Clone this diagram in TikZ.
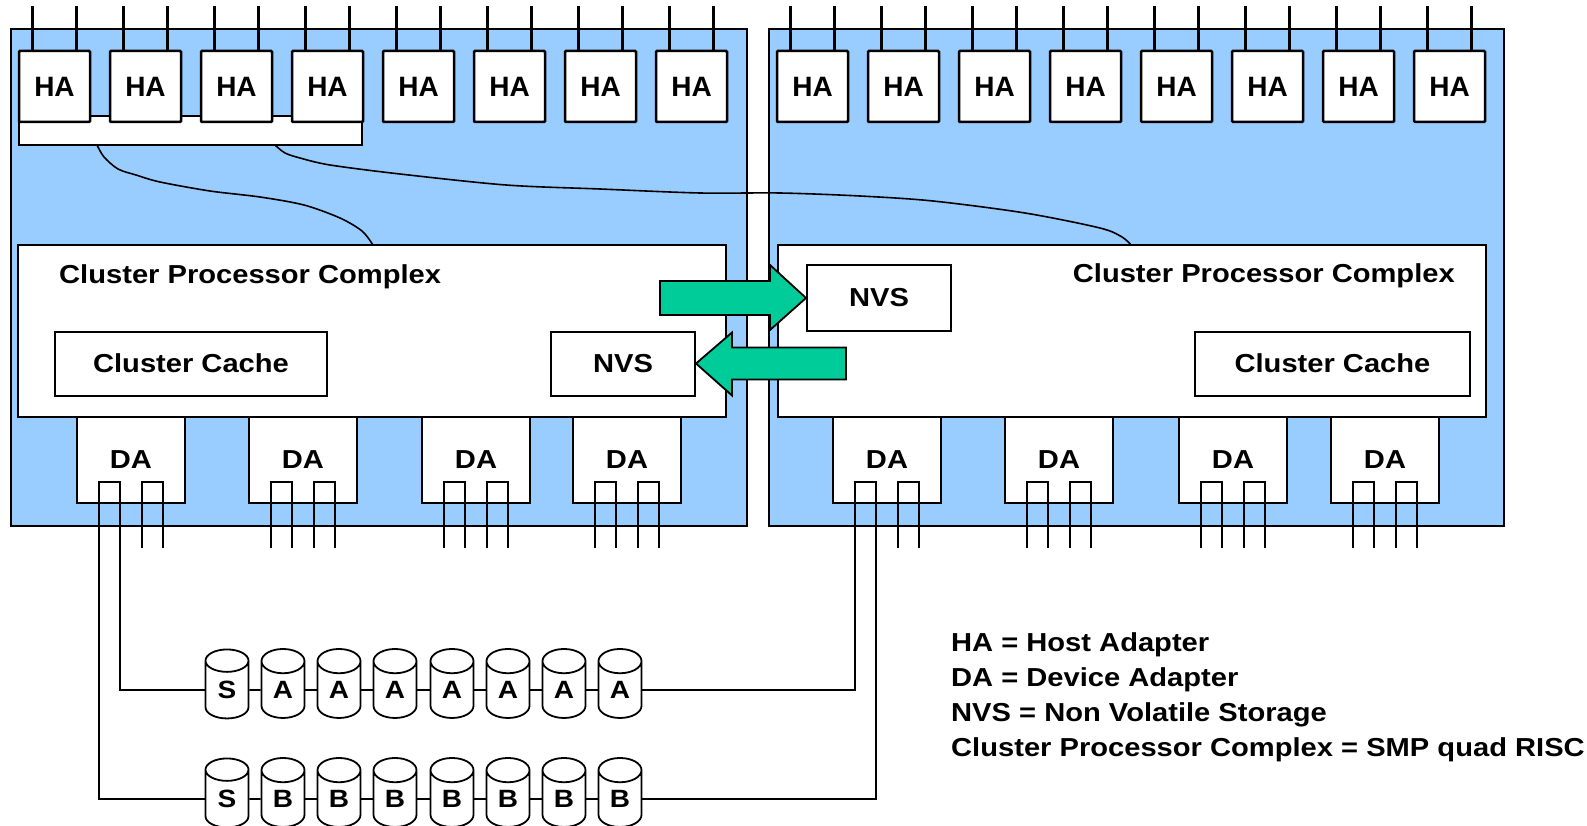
\documentclass[tikz,border=0pt]{standalone}
\usepackage{fontspec}
\setmainfont{Liberation Sans}
\newfontfamily\widesans[FakeStretch=1.12]{Liberation Sans}
\usetikzlibrary{positioning,shapes.geometric}
\definecolor{PanelBlue}{RGB}{153,204,255}
\definecolor{ArrowGreen}{RGB}{0,204,153}

\begin{document}
\begin{tikzpicture}[x=1pt, y=-1pt,
    panel/.style={draw=black, fill=PanelBlue, line width=2pt, minimum height=497pt, inner sep=0pt},
    cpcbox/.style={draw=black, fill=white, line width=2pt, minimum width=708pt, minimum height=172pt, inner sep=0pt},
    cpctitle/.style={inner sep=0pt, font=\widesans\fontsize{26}{30}\selectfont\bfseries},
    innerbox/.style={draw=black, fill=white, line width=2pt, minimum height=64pt, inner sep=0pt, font=\widesans\fontsize{26}{30}\selectfont\bfseries},
    hostad/.style={draw=black, fill=white, line width=2.5pt, rounded corners=1pt, minimum width=71pt, minimum height=71pt, inner sep=0pt, font=\fontsize{28}{30}\selectfont\bfseries},
    devad/.style={draw=black, fill=white, line width=2pt, minimum width=108pt, minimum height=86pt, inner sep=0pt, font=\widesans\fontsize{26}{30}\selectfont\bfseries},
    disk/.style={cylinder, shape border rotate=90, draw=black, fill=white, line width=1.8pt, aspect=1.2, minimum width=43pt, minimum height=69pt, inner sep=0pt, font=\widesans\fontsize{25}{26}\selectfont\bfseries},
    port/.style={line width=2.6pt, draw=black},
    wire/.style={line width=1.6pt, draw=black},
    bigarrow/.style={draw=black, fill=ArrowGreen, line width=1.8pt, line join=miter}
  ]
    \useasboundingbox (0,0) rectangle (1587,826);

    % the two clusters
    \node[panel, minimum width=736pt] (panelL) at (379,277.5) {};
    \node[panel, minimum width=735pt] (panelR) at (1136.5,277.5) {};

    % wires from the host adapter bus
    \coordinate (w1s) at (97,145);
    \coordinate (w1e) at (373,245);
    \coordinate (w2s) at (275,145);
    \coordinate (w2e) at (1131,245);
    \draw[wire] plot[smooth] coordinates {(w1s) (104,157) (118,169) (136,175) (160,182) (210,191) (260,197) (304,205) (340,218) (362,231) (w1e)};
    \draw[wire] plot[smooth] coordinates {(w2s) (285,153) (300,158) (330,165) (400,174) (506,185) (600,189) (700,193) (780,193) (860,196) (933,201) (1025,213) (1100,228) (1122,237) (w2e)};

    % processor complexes
    \node[cpcbox] (cpcL) at (372,331) {};
    \node[cpcbox] (cpcR) at (1131.5,331) {};
    \node[cpctitle, anchor=west] (titleL) at (59,277) {Cluster Processor Complex};
    \node[cpctitle, anchor=east] (titleR) at (1455,276) {Cluster Processor Complex};
    \node[innerbox, minimum width=272pt] (cacheL) at (191,363.5) {Cluster Cache};
    \node[innerbox, minimum width=144pt] (nvsL) at (623,363.5) {NVS};
    \node[innerbox, minimum width=144pt, minimum height=66pt] (nvsR) at (879,298) {NVS};
    \node[innerbox, minimum width=275pt] (cacheR) at (1332.5,363.5) {Cluster Cache};

    % NVS copies
    \draw[bigarrow] (nvsR.west) -- ++(-36,-33) -- ++(0,16) -- ++(-110,0) -- ++(0,34) -- ++(110,0) -- ++(0,15) -- cycle;
    \draw[bigarrow] (nvsL.east) -- ++(36,-31) -- ++(0,15) -- ++(114,0) -- ++(0,32) -- ++(-114,0) -- ++(0,16) -- cycle;

    % host adapters
    \node[draw=black, fill=white, line width=2pt, minimum width=343pt, minimum height=29pt, inner sep=0pt] (habus) at (190.5,130.5) {};
    \node[hostad] (hal1) at (54.5,86.5) {HA};
    \node[hostad] (hal2) at (145.5,86.5) {HA};
    \node[hostad] (hal3) at (236.5,86.5) {HA};
    \node[hostad] (hal4) at (327.5,86.5) {HA};
    \node[hostad] (hal5) at (418.5,86.5) {HA};
    \node[hostad] (hal6) at (509.5,86.5) {HA};
    \node[hostad] (hal7) at (600.5,86.5) {HA};
    \node[hostad] (hal8) at (691.5,86.5) {HA};
    \node[hostad] (har1) at (812.5,86.5) {HA};
    \node[hostad] (har2) at (903.5,86.5) {HA};
    \node[hostad] (har3) at (994.5,86.5) {HA};
    \node[hostad] (har4) at (1085.5,86.5) {HA};
    \node[hostad] (har5) at (1176.5,86.5) {HA};
    \node[hostad] (har6) at (1267.5,86.5) {HA};
    \node[hostad] (har7) at (1358.5,86.5) {HA};
    \node[hostad] (har8) at (1449.5,86.5) {HA};
    \foreach \h in {hal1,hal2,hal3,hal4,hal5,hal6,hal7,hal8,har1,har2,har3,har4,har5,har6,har7,har8}
      \foreach \o in {-22,22}
        \draw[port] ([xshift=\o pt]\h.north) -- ++(0,-44);

    % device adapters
    \node[devad] (dal1) at (131,460) {DA};
    \node[devad] (dal2) at (303,460) {DA};
    \node[devad] (dal3) at (476,460) {DA};
    \node[devad] (dal4) at (627,460) {DA};
    \node[devad] (dar1) at (887,460) {DA};
    \node[devad] (dar2) at (1059,460) {DA};
    \node[devad] (dar3) at (1233,460) {DA};
    \node[devad] (dar4) at (1385,460) {DA};
    \foreach \d in {dal2,dal3,dal4,dar2,dar3,dar4}
      \foreach \o in {-32,11}
        \draw[port] ([xshift=\o pt,yshift=-44pt]\d.south) -- ++(0,-66) -- ++(21,0) -- ++(0,66);
    \foreach \d in {dal1,dar1}
      \draw[port] ([xshift=11pt,yshift=-44pt]\d.south) -- ++(0,-66) -- ++(21,0) -- ++(0,66);

    % disk loops
    \node[disk] (sdA) at (227,690) {S};
    \node[disk] (a1) at (283,690) {A};
    \node[disk] (a2) at (339,690) {A};
    \node[disk] (a3) at (395,690) {A};
    \node[disk] (a4) at (452,690) {A};
    \node[disk] (a5) at (508,690) {A};
    \node[disk] (a6) at (564,690) {A};
    \node[disk] (a7) at (620,690) {A};
    \node[disk] (sdB) at (227,799) {S};
    \node[disk] (b1) at (283,799) {B};
    \node[disk] (b2) at (339,799) {B};
    \node[disk] (b3) at (395,799) {B};
    \node[disk] (b4) at (452,799) {B};
    \node[disk] (b5) at (508,799) {B};
    \node[disk] (b6) at (564,799) {B};
    \node[disk] (b7) at (620,799) {B};
    \foreach \p/\q in {sdA/a1,a1/a2,a2/a3,a3/a4,a4/a5,a5/a6,a6/a7,sdB/b1,b1/b2,b2/b3,b3/b4,b4/b5,b5/b6,b6/b7}
      \draw[wire] (\p.east) -- (\q.west);
    \draw[port] (sdA.west) -| ([xshift=-11pt,yshift=22pt]dal1.south) -| ([xshift=-32pt]dal1.south) |- (sdB.west);
    \draw[port] (a7.east) -| ([xshift=-32pt,yshift=22pt]dar1.south) -| ([xshift=-11pt]dar1.south) |- (b7.east);

    % key
    \node[anchor=north west, align=left, inner sep=0pt, font=\widesans\fontsize{26}{35}\selectfont\bfseries] (legend) at (951,632)
      {HA = Host Adapter\\DA = Device Adapter\\NVS = Non Volatile Storage\\Cluster Processor Complex = SMP quad RISC};
\end{tikzpicture}
\end{document}
